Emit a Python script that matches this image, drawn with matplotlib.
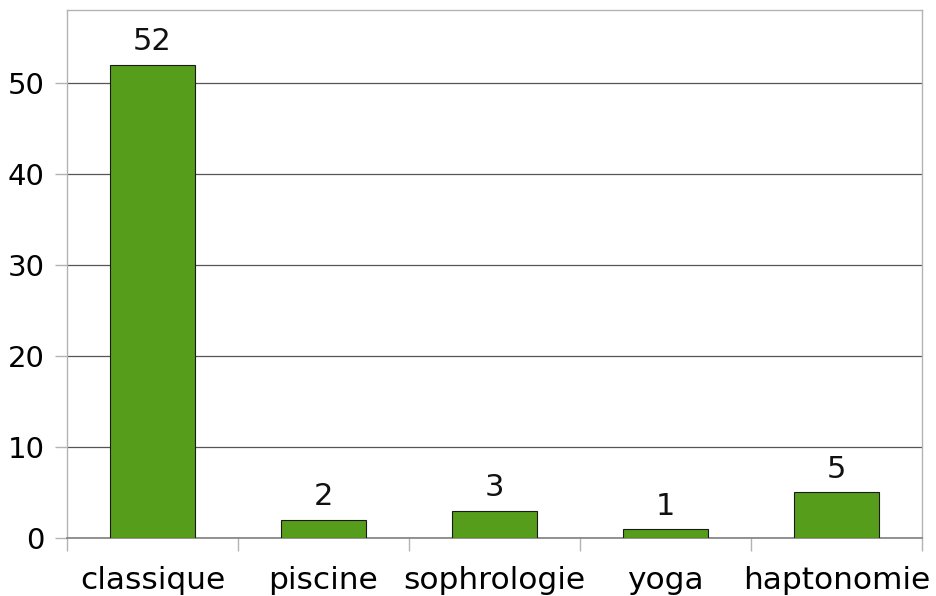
import matplotlib
matplotlib.use("Agg")
import matplotlib.pyplot as plt

categories = ["classique", "piscine", "sophrologie", "yoga", "haptonomie"]
values = [52, 2, 3, 1, 5]

plt.rcParams['font.family'] = ['DejaVu Sans']
fig = plt.figure(figsize=(9.37, 5.96), dpi=100)
ax = fig.add_axes([67/937, 1-538/596, (922-67)/937, (538-10)/596])

x = range(len(categories))
bars = ax.bar(x, values, width=0.5, color="#579d1c", edgecolor="#1a1a1a", linewidth=0.8, zorder=3)
for xi, v in zip(x, values):
    ax.annotate(str(v), (xi, v), xytext=(0, 6), textcoords="offset points",
                ha="center", va="bottom", fontsize=22, color="#111111")

ax.set_xlim(-0.5, len(categories) - 0.5)
ax.set_ylim(0, 58)
ax.set_yticks(range(0, 51, 10))
ax.yaxis.grid(True, color="#555555", linewidth=0.9, zorder=0)
ax.set_axisbelow(True)

ax.set_xticks([i - 0.5 for i in range(len(categories) + 1)], minor=False)
ax.set_xticklabels([])
ax.set_xticks(list(x), minor=True)
ax.set_xticklabels(categories, minor=True, fontsize=22.5)
ax.tick_params(axis="x", which="minor", length=0, pad=20)
ax.tick_params(axis="x", which="major", length=9, color="#b3b3b3", width=1)
ax.tick_params(axis="y", length=9, color="#b3b3b3", width=1, labelsize=21, pad=7)

for s in ["top", "right", "left"]:
    ax.spines[s].set_color("#b3b3b3")
    ax.spines[s].set_linewidth(1)
ax.spines["bottom"].set_color("#808080")
ax.spines["bottom"].set_linewidth(1.2)

fig.savefig("out.png", dpi=100)
